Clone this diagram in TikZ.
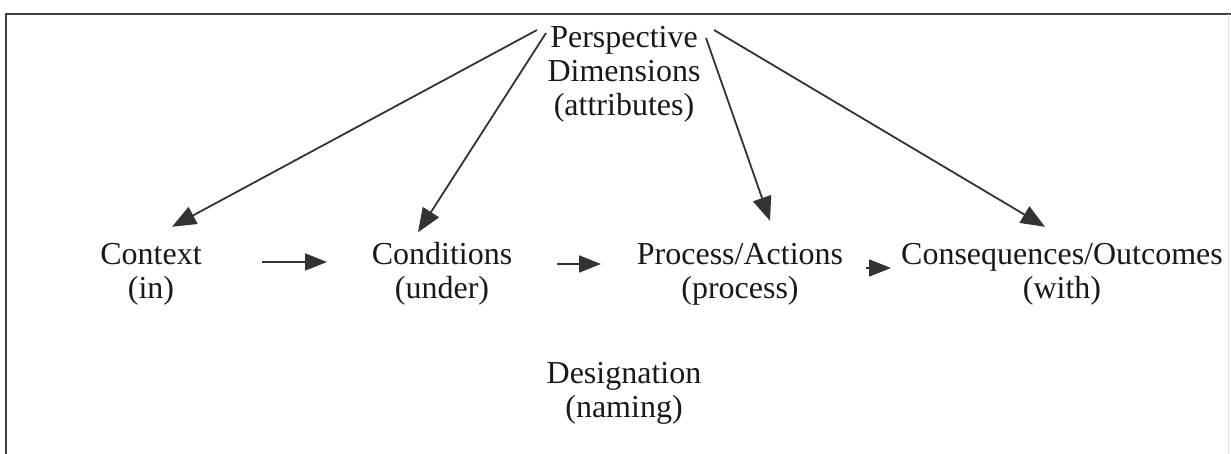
\documentclass[tikz,border=0pt]{standalone}
\usepackage{fontspec}
\setmainfont{Liberation Serif}
\usetikzlibrary{arrows.meta,calc}
\begin{document}
\begin{tikzpicture}[x=1pt,y=-1pt,
  lbl/.style={font=\fontsize{32}{34}\selectfont, align=center, inner sep=0pt, text=black!90},
  arr/.style={draw=black!80, line width=1.8pt, -{Triangle[length=24pt,width=19pt]}},
  harr/.style={draw=black!80, line width=1.8pt, -{Triangle[length=22pt,width=17pt]}},
  frame/.style={draw=black!75, line width=2pt}]
\useasboundingbox (0,0) rectangle (1231,454);
\draw[frame] (5,14) -- (1231,14);
\draw[frame] (6,14) -- (6,454);
\draw[black!12, line width=1pt] (1228,14) -- (1228,454);

\node[lbl] (persp) at (624,74) {Perspective\\Dimensions\\(attributes)};
\node[lbl] (ctx) at (151,274) {Context\\(in)};
\node[lbl] (cond) at (442,274) {Conditions\\(under)};
\node[lbl] (proc) at (740,274) {Process/Actions\\(process)};
\node[lbl] (cons) at (1062,274) {Consequences/Outcomes\\(with)};
\node[lbl] (desig) at (624,393) {Designation\\(naming)};

\coordinate (p1) at (537,30);
\coordinate (p2) at (546,33);
\coordinate (p3) at (706,38);
\coordinate (p4) at (714,30);
\draw[arr] (p1) -- ($(ctx.north)+(21,-16)$);
\draw[arr] (p2) -- ($(cond.north)+(-24,-10)$);
\draw[arr] (p3) -- ($(proc.north)+(30,-22)$);
\draw[arr] (p4) -- ($(cons.north)+(-17,-16)$);

\coordinate (h1s) at (262,262);
\coordinate (h1e) at (327,262);
\coordinate (h2s) at (557,264);
\coordinate (h2e) at (601,264);
\coordinate (h3s) at (866,268);
\coordinate (h3e) at (891,268);
\draw[harr] (h1s) -- (h1e);
\draw[harr] (h2s) -- (h2e);
\draw[harr] (h3s) -- (h3e);
\end{tikzpicture}
\end{document}
